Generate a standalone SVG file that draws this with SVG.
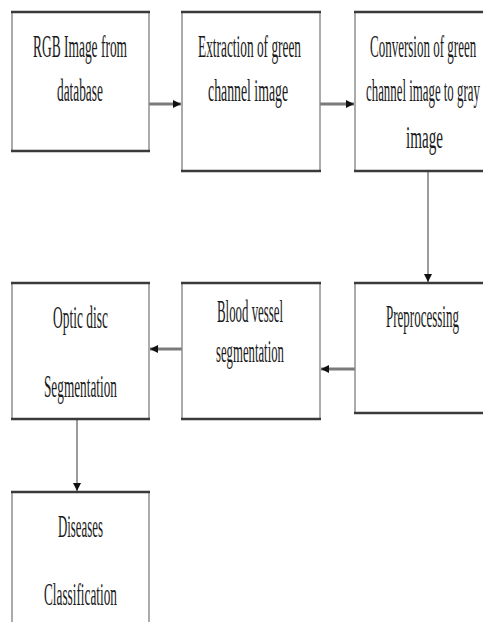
<svg xmlns="http://www.w3.org/2000/svg" width="483" height="622" viewBox="0 0 483 622">
<style>
.box{fill:#fff;stroke:#888;stroke-width:1.4}
.hb{stroke:#3a3a3a;stroke-width:2.6}
.t{font-family:"Liberation Serif","Times New Roman",serif;font-size:31px;fill:#1a1a1a}
.cn{stroke:#7a7a7a;stroke-width:3;fill:none}
.cv{stroke:#7a7a7a;stroke-width:1.5;fill:none}
</style>
<defs>
<marker id="ah" viewBox="0 0 10 10" refX="10" refY="5" markerWidth="8" markerHeight="8" markerUnits="userSpaceOnUse" orient="auto">
<path d="M0,0 L10,5 L0,10 z" fill="#111"/>
</marker>
</defs>
<rect width="483" height="622" fill="#fff"/>
<g id="connectors">
<line class="cn" x1="149" y1="104" x2="181" y2="104" marker-end="url(#ah)"/>
<line class="cn" x1="320" y1="104" x2="354" y2="104" marker-end="url(#ah)"/>
<line class="cv" x1="428" y1="172" x2="428" y2="282" marker-end="url(#ah)"/>
<line class="cn" x1="355" y1="369" x2="321" y2="369" marker-end="url(#ah)"/>
<line class="cn" x1="182" y1="349" x2="150" y2="349" marker-end="url(#ah)"/>
<line class="cv" x1="77" y1="419" x2="77" y2="491" marker-end="url(#ah)"/>
</g>
<g id="n1">
<rect class="box" x="12" y="12" width="137" height="139"/>
<line class="hb" x1="11" y1="12" x2="150" y2="12"/><line class="hb" x1="11" y1="151" x2="150" y2="151"/>
<text class="t" transform="translate(33 57) scale(0.45 1)" textLength="209" lengthAdjust="spacingAndGlyphs">RGB Image from</text>
<text class="t" transform="translate(57 101) scale(0.45 1)" textLength="102" lengthAdjust="spacingAndGlyphs">database</text>
</g>
<g id="n2">
<rect class="box" x="182" y="12" width="138" height="159"/>
<line class="hb" x1="181" y1="12" x2="321" y2="12"/><line class="hb" x1="181" y1="171" x2="321" y2="171"/>
<text class="t" transform="translate(198 57) scale(0.45 1)" textLength="229" lengthAdjust="spacingAndGlyphs">Extraction of green</text>
<text class="t" transform="translate(208 101) scale(0.45 1)" textLength="178" lengthAdjust="spacingAndGlyphs">channel image</text>
</g>
<g id="n3">
<rect class="box" x="355" y="12" width="140" height="159"/>
<line class="hb" x1="354" y1="12" x2="483" y2="12"/><line class="hb" x1="354" y1="171" x2="483" y2="171"/>
<text class="t" transform="translate(370 57) scale(0.45 1)" textLength="236" lengthAdjust="spacingAndGlyphs">Conversion of green</text>
<text class="t" transform="translate(366 101) scale(0.45 1)" textLength="253" lengthAdjust="spacingAndGlyphs">channel image to gray</text>
<text class="t" transform="translate(406 148) scale(0.45 1)" textLength="82" lengthAdjust="spacingAndGlyphs">image</text>
</g>
<g id="n4">
<rect class="box" x="12" y="283" width="137" height="136"/>
<line class="hb" x1="11" y1="283" x2="150" y2="283"/><line class="hb" x1="11" y1="419" x2="150" y2="419"/>
<text class="t" transform="translate(53 328) scale(0.45 1)" textLength="122" lengthAdjust="spacingAndGlyphs">Optic disc</text>
<text class="t" transform="translate(44 397) scale(0.45 1)" textLength="162" lengthAdjust="spacingAndGlyphs">Segmentation</text>
</g>
<g id="n5">
<rect class="box" x="182" y="283" width="138" height="136"/>
<line class="hb" x1="181" y1="283" x2="321" y2="283"/><line class="hb" x1="181" y1="419" x2="321" y2="419"/>
<text class="t" transform="translate(217 322) scale(0.45 1)" textLength="147" lengthAdjust="spacingAndGlyphs">Blood vessel</text>
<text class="t" transform="translate(216 362) scale(0.45 1)" textLength="151" lengthAdjust="spacingAndGlyphs">segmentation</text>
</g>
<g id="n6">
<rect class="box" x="355" y="283" width="140" height="130"/>
<line class="hb" x1="354" y1="283" x2="483" y2="283"/><line class="hb" x1="354" y1="413" x2="483" y2="413"/>
<text class="t" transform="translate(386 327) scale(0.45 1)" textLength="162" lengthAdjust="spacingAndGlyphs">Preprocessing</text>
</g>
<g id="n7">
<rect class="box" x="12" y="492" width="137" height="140"/>
<line class="hb" x1="11" y1="492" x2="150" y2="492"/>
<text class="t" transform="translate(58 537) scale(0.45 1)" textLength="100" lengthAdjust="spacingAndGlyphs">Diseases</text>
<text class="t" transform="translate(44 605) scale(0.45 1)" textLength="162" lengthAdjust="spacingAndGlyphs">Classification</text>
</g>
</svg>
